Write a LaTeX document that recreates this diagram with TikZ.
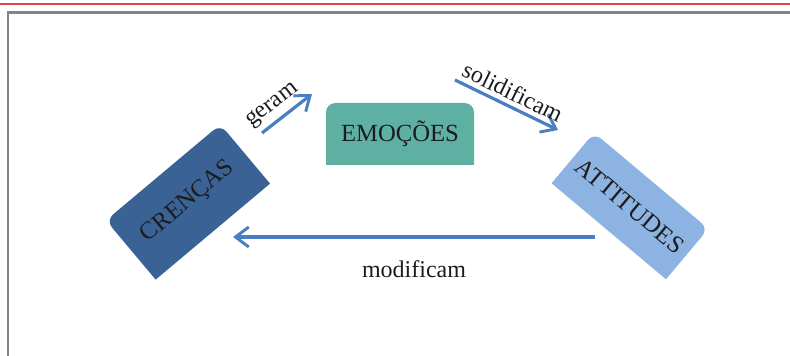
\documentclass[tikz,border=0pt]{standalone}
\usepackage{fontspec}
\setmainfont{Liberation Serif}
\usetikzlibrary{arrows.meta}
\usetikzlibrary{backgrounds}

\definecolor{crencas}{HTML}{3A6295}
\definecolor{emocoes}{HTML}{5EB0A3}
\definecolor{atitudes}{HTML}{8DB3E2}
\definecolor{seta}{HTML}{4A7EC4}
\definecolor{texto}{HTML}{1C1C1C}
\definecolor{moldura}{HTML}{858585}
\definecolor{linha}{HTML}{E2404A}

\begin{document}
\begin{tikzpicture}[x=0.75pt, y=0.75pt,
    every node/.style={font=\fontsize{18}{21}\selectfont, text=texto},
    caixa/.style={inner sep=0pt, outer sep=0pt, font=\fontsize{18.5}{22}\selectfont},
    setaazul/.style={draw=seta, line width=2.4pt, -{Straight Barb[length=10pt, width=15pt, line width=2.2pt]}}]
          \useasboundingbox (0,0) rectangle (790,356);

          % Moldura
          \draw[linha, line width=1.6pt] (0,352) -- (790,352);
          \draw[moldura, line width=1.6pt] (8,0) -- (8,343.5) -- (790,343.5);

          % Nos
          \node[caixa, minimum width=112pt, minimum height=58pt, rotate=40] (cr) at (188,154) {CRENÇAS};
          \node[caixa, minimum width=111pt, minimum height=46.5pt] (em) at (400,222) {EMOÇÕES};
          \node[caixa, minimum width=112pt, minimum height=49.5pt, rotate=-40] (at) at (630,150) {ATTITUDES};

          \begin{scope}[on background layer]
            \foreach \n/\c in {cr/crencas, em/emocoes, at/atitudes}
              \fill[\c] (\n.west) -- (\n.south west) -- (\n.south east) -- (\n.east)
                [rounded corners=7pt] -- (\n.north east) -- (\n.north west) -- cycle;
          \end{scope}

          % Setas
          \coordinate (g1) at (262,223);
          \coordinate (g2) at (312,262);
          \coordinate (s1) at (455,276);
          \coordinate (s2) at (558,226);
          \coordinate (m1) at (595,119);
          \coordinate (m2) at (233,119);

          \draw[setaazul] (g1) -- node(geram)[sloped, above, pos=0.4] {geram} (g2);
          \draw[setaazul] (s1) -- node(solid)[sloped, above, pos=0.5] {solidificam} (s2);
          \draw[setaazul] (m1) -- node(modif)[below=13pt, midway] {modificam} (m2);

        \end{tikzpicture}
\end{document}
